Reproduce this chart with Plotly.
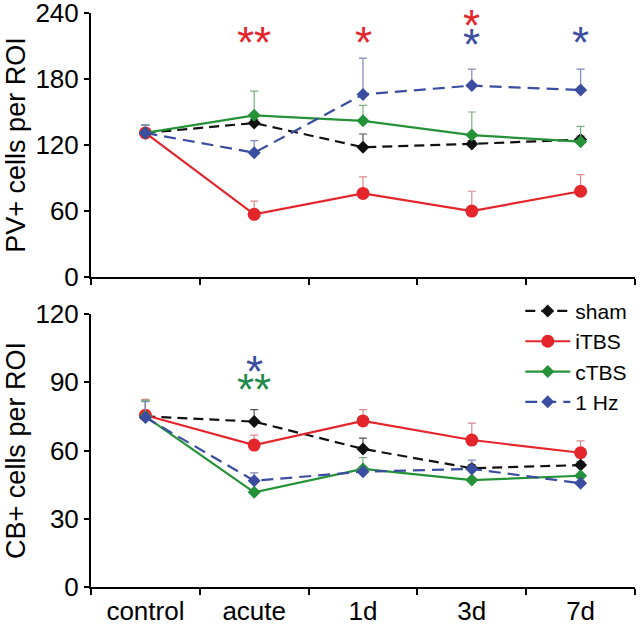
import plotly.graph_objects as go

categories = ["control", "acute", "1d", "3d", "7d"]
series_names = ["sham", "iTBS", "cTBS", "1 Hz"]

# PV+ cells per ROI (top panel)
pv_sham = [131, 140, 118, 121, 125]
pv_itbs = [131, 57, 76, 60, 78]
pv_ctbs = [131, 147, 142, 129, 123]
pv_1hz = [131, 113, 166, 174, 170]
pv_sham_err = [7, 3, 12, 3, 3]
pv_itbs_err = [7, 12, 15, 18, 15]
pv_ctbs_err = [7, 22, 14, 21, 14]
pv_1hz_err = [7, 11, 33, 15, 19]

# CB+ cells per ROI (bottom panel)
cb_sham = [75, 72.7, 60.7, 52.2, 53.6]
cb_itbs = [75.5, 62.4, 73, 64.6, 59]
cb_ctbs = [75, 41.6, 51.9, 47, 48.9]
cb_1hz = [74.5, 46.7, 50.7, 51.9, 45.6]
cb_sham_err = [7, 5.3, 4.7, 1.5, 1.5]
cb_itbs_err = [7, 4.4, 5, 7.4, 5.2]
cb_ctbs_err = [7, 1, 5, 1, 1]
cb_1hz_err = [7, 3.5, 1.5, 3.9, 1]

# significance marks: (category, value, text, colour-key)
pv_marks = [("acute", 218, "**", "iTBS"), ("1d", 218, "*", "iTBS"),
            ("3d", 233, "*", "iTBS"), ("3d", 216, "*", "1 Hz"),
            ("7d", 218, "*", "1 Hz")]
cb_marks = [("acute", 97, "*", "1 Hz"), ("acute", 89, "**", "cTBS")]

colors = {"sham": "#111111", "iTBS": "#e4262c", "cTBS": "#25923a", "1 Hz": "#3b4da0"}
err_colors = {"sham": "#555555", "iTBS": "#d98a8e", "cTBS": "#7ab07e", "1 Hz": "#8088b8"}
mark_colors = {"iTBS": "#e4262c", "cTBS": "#1f8a4c", "1 Hz": "#3b4da0"}
dashes = {"sham": "10px,6px", "iTBS": "solid", "cTBS": "solid", "1 Hz": "12px,7px"}
symbols = {"sham": "diamond", "iTBS": "circle", "cTBS": "diamond", "1 Hz": "diamond"}
msizes = {"sham": 10, "iTBS": 13, "cTBS": 10, "1 Hz": 10}

pv_vals = {"sham": (pv_sham, pv_sham_err), "iTBS": (pv_itbs, pv_itbs_err),
           "cTBS": (pv_ctbs, pv_ctbs_err), "1 Hz": (pv_1hz, pv_1hz_err)}
cb_vals = {"sham": (cb_sham, cb_sham_err), "iTBS": (cb_itbs, cb_itbs_err),
           "cTBS": (cb_ctbs, cb_ctbs_err), "1 Hz": (cb_1hz, cb_1hz_err)}

fig = go.Figure()

for panel, vals, xa, ya, show in [("pv", pv_vals, "x", "y", False), ("cb", cb_vals, "x2", "y2", True)]:
    for name in series_names:
        y, e = vals[name]
        fig.add_trace(go.Scatter(
            x=categories, y=y, name=name, xaxis=xa, yaxis=ya,
            mode="lines+markers", legendgroup=name, showlegend=show,
            line=dict(color=colors[name], width=2.2, dash=dashes[name]),
            marker=dict(symbol=symbols[name], size=msizes[name], color=colors[name]),
            error_y=dict(type="data", symmetric=False, array=e, arrayminus=[0] * len(e),
                         color=err_colors[name], thickness=1.2, width=4),
        ))

annotations = []
for marks, xr, yr in [(pv_marks, "x", "y"), (cb_marks, "x2", "y2")]:
    for cat, val, txt, key in marks:
        annotations.append(dict(x=cat, y=val, xref=xr, yref=yr, text=txt, showarrow=False,
                                font=dict(family="Liberation Sans", size=44, color=mark_colors[key]),
                                yanchor="middle", yshift=-5))

axis_common = dict(showline=True, linecolor="black", linewidth=2, ticks="outside",
                   tickcolor="black", tickwidth=1.5, showgrid=False, zeroline=False,
                   automargin=False, ticklabeloverflow="allow",
                   tickfont=dict(family="Liberation Sans", size=26, color="black"))

fig.update_layout(
    width=640, height=624,
    margin=dict(l=91, r=5, t=13, b=37),
    paper_bgcolor="white", plot_bgcolor="white",
    font=dict(family="Liberation Sans", color="black"),
    xaxis=dict(**axis_common, type="category", range=[-0.5, 4.5], tickson="boundaries",
               ticklen=6, showticklabels=False, anchor="y", domain=[0, 1]),
    yaxis=dict(**axis_common, range=[0, 240], tickvals=[0, 60, 120, 180, 240], ticklen=5,
               domain=[0.540, 1.0], anchor="x",
               title=dict(text="PV+ cells per ROI", font=dict(size=27), standoff=2)),
    xaxis2=dict(**axis_common, type="category", range=[-0.5, 4.5], tickson="boundaries",
                ticklen=6, anchor="y2", domain=[0, 1]),
    yaxis2=dict(**axis_common, range=[0, 120], tickvals=[0, 30, 60, 90, 120], ticklen=5,
                domain=[0.0, 0.4756], anchor="x2",
                title=dict(text="CB+ cells per ROI", font=dict(size=27), standoff=2)),
    legend=dict(x=0.995, y=0.516, xanchor="right", yanchor="top",
                font=dict(family="Liberation Sans", size=21, color="black"),
                tracegroupgap=0, itemwidth=45,
                bgcolor="rgba(0,0,0,0)"),
    annotations=annotations,
)
fig.update_xaxes(tickfont=dict(size=26))

fig.write_html("out.html", config={"displayModeBar": False},
               post_script="document.body.style.margin='0';document.body.style.overflow='hidden';")
